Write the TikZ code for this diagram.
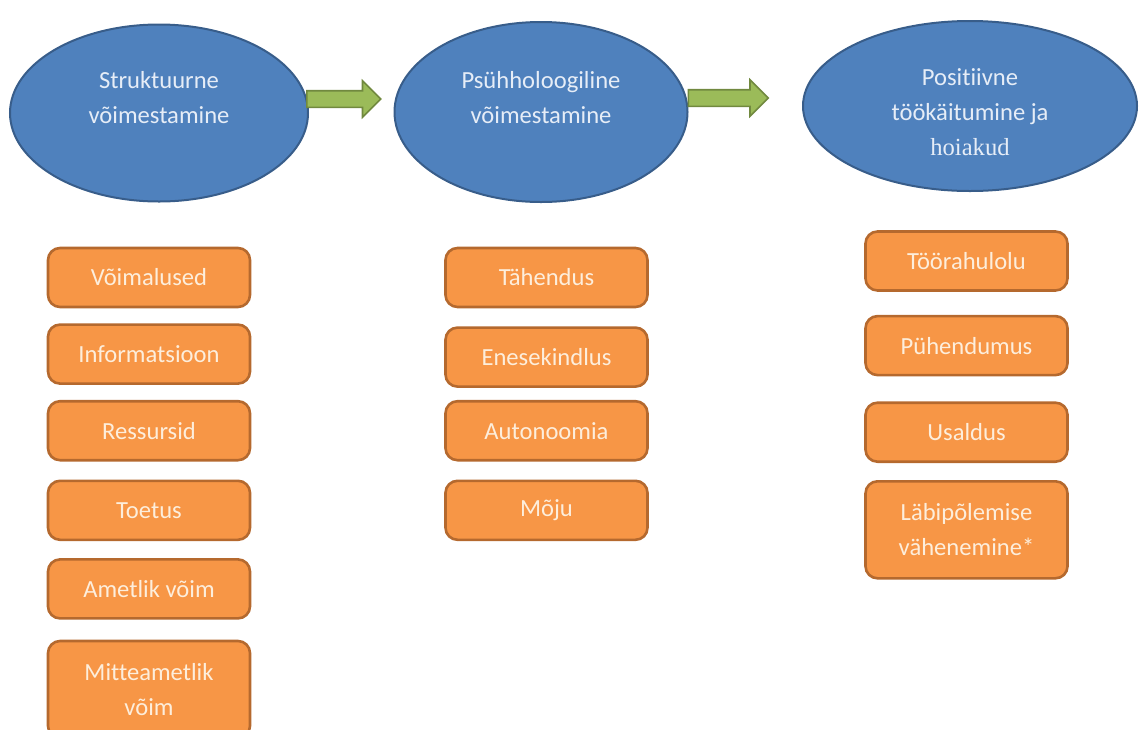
\documentclass[tikz,border=0pt]{standalone}
\usepackage{fontspec}
\setmainfont{Carlito}[Ligatures=NoCommon]
\newfontfamily\hoiafont{Liberation Serif}
\usetikzlibrary{shapes.geometric, shapes.arrows, positioning}

\definecolor{ellfill}{HTML}{4F81BD}
\definecolor{elldraw}{HTML}{385D8A}
\definecolor{elltext}{HTML}{E6EDF7}
\definecolor{boxfill}{HTML}{F79646}
\definecolor{boxdraw}{HTML}{B5692E}
\definecolor{boxtext}{HTML}{FDEEDC}
\definecolor{arrfill}{HTML}{9BBB59}
\definecolor{arrdraw}{HTML}{71893F}

% lifted text block inside an ellipse
\newcommand{\lifted}[2]{\raisebox{#1}[0pt][0pt]{\begin{tabular}{@{}c@{}}#2\end{tabular}}}

\begin{document}
\begin{tikzpicture}[x=0.5pt, y=-0.5pt, font=\fontsize{12.3}{17.5}\selectfont,
    goal/.style={ellipse, draw=elldraw, line width=1pt, fill=ellfill, text=elltext, inner sep=0pt},
    item/.style={draw=boxdraw, line width=1.3pt, fill=boxfill, text=boxtext, rounded corners=6pt,
        minimum width=101pt, minimum height=29.5pt, align=center},
    tall/.style={minimum height=48.5pt},
    flow/.style={single arrow, draw=arrdraw, fill=arrfill, line width=0.8pt, inner xsep=0pt,
        inner ysep=3.75pt, minimum width=17.5pt, single arrow head extend=5pt}]
    \useasboundingbox (0,0) rectangle (1139,729);
    % ellipses
    \node[goal, minimum width=149pt, minimum height=88.5pt] (struct) at (159,113)
        {\lifted{4.2pt}{Struktuurne\\võimestamine}};
    \node[goal, minimum width=146.5pt, minimum height=90pt] (psych) at (541,112)
        {\lifted{3.7pt}{Psühholoogiline\\võimestamine}};
    \node[goal, minimum width=167pt, minimum height=85pt] (result) at (970,106)
        {\lifted{-6.6pt}{Positiivne\\töökäitumine ja\\{\hoiafont hoiakud}}};
    \node[flow, minimum height=37pt, right=-1.5pt of struct, yshift=7pt] (a1) {};
    \node[flow, minimum height=40pt, right=-0.5pt of psych, yshift=7pt] (a2) {};
    % first column
    \node[item] (opp) at (149,277.5) {Võimalused};
    \node[item, below=7.5pt of opp] (info) {Informatsioon};
    \node[item, below=7.5pt of info] (res) {Ressursid};
    \node[item, below=9pt of res] (supp) {Toetus};
    \node[item, below=8.5pt of supp] (formal) {Ametlik võim};
    \node[item, tall, below=10pt of formal] (informal) {Mitteametlik\\võim};
    % second column
    \node[item] (mean) at (546.5,277.5) {Tähendus};
    \node[item, below=9pt of mean] (conf) {Enesekindlus};
    \node[item, below=6pt of conf] (auton) {Autonoomia};
    \node[item, below=9pt of auton] (impact) {Mõju};
    % third column
    \node[item] (satis) at (966.5,261) {Töörahulolu};
    \node[item, below=11.5pt of satis] (commit) {Pühendumus};
    \node[item, below=12.5pt of commit] (trust) {Usaldus};
    \node[item, tall, below=8.5pt of trust] (burnout) {Läbipõlemise\\vähenemine*};
\end{tikzpicture}
\end{document}
